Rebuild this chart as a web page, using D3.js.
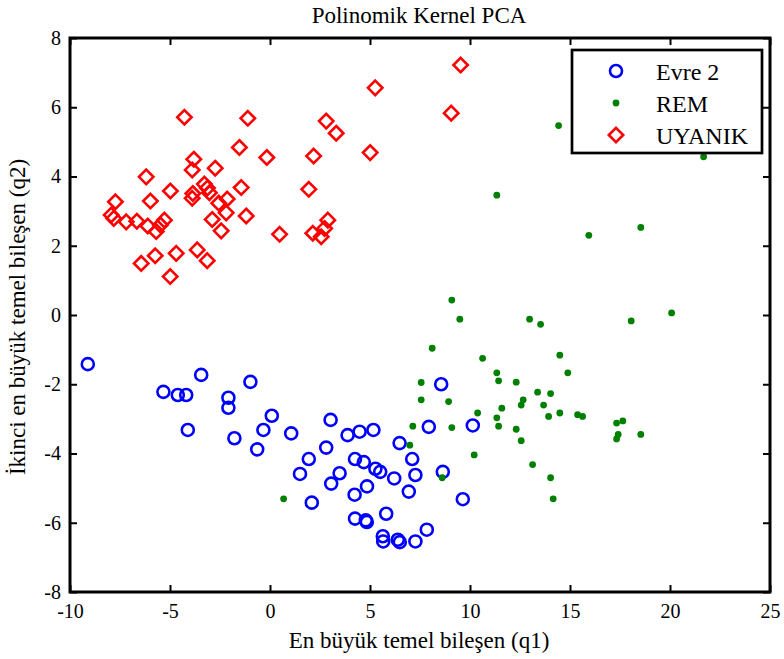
<!DOCTYPE html>
<html>
<head>
<meta charset="utf-8">
<script src="https://cdn.jsdelivr.net/npm/d3@7"></script>
<style>
  html, body { margin: 0; padding: 0; background: #fff; }
  svg { display: block; }
  svg text { font-family: "Liberation Serif", "Times New Roman", serif; fill: #000; }
</style>
</head>
<body>
<svg id="chart" width="784" height="659"></svg>
<script>
// Axis ticks
const xTicks = [-10, -5, 0, 5, 10, 15, 20, 25];
const yTicks = [-8, -6, -4, -2, 0, 2, 4, 6, 8];

// Series labels
const seriesNames = ["Evre 2", "REM", "UYANIK"];

// Evre 2 (q1, q2)
const evre2X = [-9.11, -5.33, -4.61, -4.19, -3.44, -2.08, -2.08, -0.98, -4.11, -1.78,
  0.09, -0.33, -0.64, 1.06, 1.50, 1.94, 2.09, 3.03, 2.81, 3.06,
  3.48, 3.88, 4.48, 5.17, 4.25, 4.69, 5.27, 5.51, 4.85, 4.23,
  6.21, 6.48, 7.11, 7.27, 6.94, 8.56, 7.94, 8.64, 10.14, 9.64,
  5.81, 4.25, 4.79, 4.84, 5.64, 5.66, 6.39, 6.49, 7.27, 7.84];
const evre2Y = [-1.42, -2.22, -2.31, -2.31, -1.73, -2.39, -2.68, -1.93, -3.32, -3.56,
  -2.91, -3.32, -3.88, -3.42, -4.59, -4.16, -5.42, -3.03, -3.83, -4.87,
  -4.57, -3.47, -3.37, -3.32, -4.16, -4.25, -4.44, -4.53, -4.95, -5.19,
  -4.72, -3.70, -4.16, -4.62, -5.10, -2.00, -3.23, -4.53, -3.19, -5.32,
  -5.74, -5.88, -5.93, -5.98, -6.39, -6.54, -6.49, -6.56, -6.54, -6.20];

// REM (q1, q2)
const remX = [14.43, 21.68, 11.34, 15.94, 18.54, 9.09, 9.49, 12.98, 13.53, 18.06,
  20.08, 8.11, 10.63, 14.49, 11.34, 11.43, 14.89, 7.56, 12.31, 13.38,
  14.03, 7.56, 8.93, 12.66, 12.56, 13.68, 11.59, 10.38, 11.34, 14.49,
  13.93, 15.38, 15.63, 7.14, 9.09, 11.43, 12.31, 12.56, 17.33, 17.64,
  17.41, 17.33, 18.54, 6.99, 10.21, 13.13, 14.03, 8.61, 14.16, 0.68];
const remY = [5.47, 4.57, 3.46, 2.30, 2.53, 0.43, -0.12, -0.12, -0.27, -0.17,
  0.06, -0.96, -1.25, -1.16, -1.67, -1.90, -1.67, -1.95, -1.94, -2.23,
  -2.27, -2.45, -2.50, -2.45, -2.60, -2.60, -2.69, -2.83, -2.97, -2.83,
  -2.93, -2.88, -2.93, -3.21, -3.25, -3.21, -3.30, -3.63, -3.12, -3.06,
  -3.45, -3.58, -3.45, -3.76, -4.04, -4.32, -4.70, -4.70, -5.31, -5.31];

// UYANIK (q1, q2)
const uyanikX = [-4.28, -1.11, -1.53, -0.16, -3.81, -3.89, -2.74, -6.19, -4.98, -3.28,
  -3.13, -3.03, -3.86, -3.89, -1.44, -7.73, -5.98, -2.14, -2.56, -2.19,
  -1.19, -2.89, -2.44, -7.94, -7.81, -7.19, -6.66, -6.11, -5.69, -5.48,
  -5.28, 0.48, -6.44, -5.74, -4.69, -3.64, -3.14, -4.99, 9.53, 5.26,
  9.06, 2.81, 3.31, 2.18, 5.01, 1.94, 2.14, 2.56, 2.73, 2.89];
const uyanikY = [5.71, 5.68, 4.84, 4.55, 4.50, 4.19, 4.24, 3.99, 3.58, 3.78,
  3.67, 3.53, 3.51, 3.37, 3.68, 3.27, 3.29, 3.35, 3.23, 2.95,
  2.86, 2.76, 2.43, 2.89, 2.79, 2.69, 2.71, 2.57, 2.41, 2.60,
  2.74, 2.33, 1.49, 1.71, 1.78, 1.88, 1.57, 1.11, 7.22, 6.56,
  5.83, 5.60, 5.25, 4.59, 4.69, 3.63, 2.36, 2.26, 2.50, 2.74];

const W = 784, H = 659;
const margin = { left: 70, right: 14, top: 38, bottom: 67 };
const plotW = W - margin.left - margin.right;   // 700
const plotH = H - margin.top - margin.bottom;   // 554

const serif = "'Liberation Serif', 'Times New Roman', serif";

const svg = d3.select("#chart");
const g = svg.append("g").attr("transform", `translate(${margin.left},${margin.top})`);

const x = d3.scaleLinear().domain([-10, 25]).range([0, plotW]);
const y = d3.scaleLinear().domain([-8, 8]).range([plotH, 0]);

const tickFS = 20;   // tick labels
const labelFS = 23;  // title and axis titles
const legendFS = 24; // legend entries

// Markers
const blue = "#0000ff", green = "#008000", red = "#ff0000";
const diamondPath = r => `M0,${-r}L${r},0L0,${r}L${-r},0Z`;

const marks = g.append("g");

marks.selectAll("circle.evre2")
  .data(d3.zip(evre2X, evre2Y))
  .join("circle")
  .attr("class", "evre2")
  .attr("cx", d => x(d[0]))
  .attr("cy", d => y(d[1]))
  .attr("r", 6)
  .attr("fill", "none")
  .attr("stroke", blue)
  .attr("stroke-width", 2.6);

marks.selectAll("circle.rem")
  .data(d3.zip(remX, remY))
  .join("circle")
  .attr("class", "rem")
  .attr("cx", d => x(d[0]))
  .attr("cy", d => y(d[1]))
  .attr("r", 3.4)
  .attr("fill", green);

marks.selectAll("path.uyanik")
  .data(d3.zip(uyanikX, uyanikY))
  .join("path")
  .attr("class", "uyanik")
  .attr("transform", d => `translate(${x(d[0])},${y(d[1])})`)
  .attr("d", diamondPath(7.2))
  .attr("fill", "none")
  .attr("stroke", red)
  .attr("stroke-width", 2.6);

// Axes: inward ticks on all four sides, plain hyphen for negatives
const tickLen = 7;
const fmt = d => String(d);
function styleAxis(sel) {
  sel.attr("font-family", serif).attr("font-size", tickFS);
  sel.select(".domain").remove();
  sel.selectAll("line").attr("stroke", "#000").attr("stroke-width", 2);
  sel.selectAll("text")
    .attr("font-family", serif)
    .style("font-family", serif)
    .style("font-size", tickFS + "px");
}

g.append("g").attr("transform", `translate(0,${plotH})`)
  .call(d3.axisBottom(x).tickValues(xTicks).tickSize(-tickLen).tickPadding(12).tickFormat(fmt))
  .call(styleAxis);
g.append("g")
  .call(d3.axisTop(x).tickValues(xTicks).tickSize(-tickLen).tickFormat(""))
  .call(styleAxis);
g.append("g")
  .call(d3.axisLeft(y).tickValues(yTicks).tickSize(-tickLen).tickPadding(9).tickFormat(fmt))
  .call(styleAxis);
g.append("g").attr("transform", `translate(${plotW},0)`)
  .call(d3.axisRight(y).tickValues(yTicks).tickSize(-tickLen).tickFormat(""))
  .call(styleAxis);

// Frame
g.append("rect")
  .attr("x", 0).attr("y", 0).attr("width", plotW).attr("height", plotH)
  .attr("fill", "none").attr("stroke", "#000").attr("stroke-width", 3);

// Title and axis labels
svg.append("text")
  .attr("x", margin.left + plotW / 2 - 1).attr("y", 23)
  .attr("text-anchor", "middle")
  .style("font-size", labelFS + "px")
  .text("Polinomik Kernel PCA");

svg.append("text")
  .attr("x", margin.left + plotW / 2 - 1).attr("y", 648)
  .attr("text-anchor", "middle")
  .style("font-size", labelFS + "px")
  .text("En büyük temel bileşen (q1)");

svg.append("text")
  .attr("transform", `translate(25,${margin.top + plotH / 2 + 2}) rotate(-90)`)
  .attr("text-anchor", "middle")
  .style("font-size", labelFS + "px")
  .text("İkinci en büyük temel bileşen (q2)");

// Legend
const lg = svg.append("g").attr("transform", "translate(572,50)");
lg.append("rect")
  .attr("width", 190).attr("height", 103)
  .attr("fill", "#fff").attr("stroke", "#000").attr("stroke-width", 2.7);

const rows = [
  { name: seriesNames[0], type: "circle" },
  { name: seriesNames[1], type: "dot" },
  { name: seriesNames[2], type: "diamond" }
];
const rowY = [21, 53, 85];
rows.forEach((r, i) => {
  const ry = rowY[i];
  if (r.type === "circle") {
    lg.append("circle").attr("cx", 44).attr("cy", ry).attr("r", 6)
      .attr("fill", "none").attr("stroke", blue).attr("stroke-width", 2.6);
  } else if (r.type === "dot") {
    lg.append("circle").attr("cx", 44).attr("cy", ry).attr("r", 3.4).attr("fill", green);
  } else {
    lg.append("path").attr("transform", `translate(44,${ry})`).attr("d", diamondPath(7.2))
      .attr("fill", "none").attr("stroke", red).attr("stroke-width", 2.6);
  }
  lg.append("text").attr("x", 84).attr("y", ry + 8.5)
    .style("font-size", legendFS + "px")
    .text(r.name);
});
</script>
</body>
</html>
